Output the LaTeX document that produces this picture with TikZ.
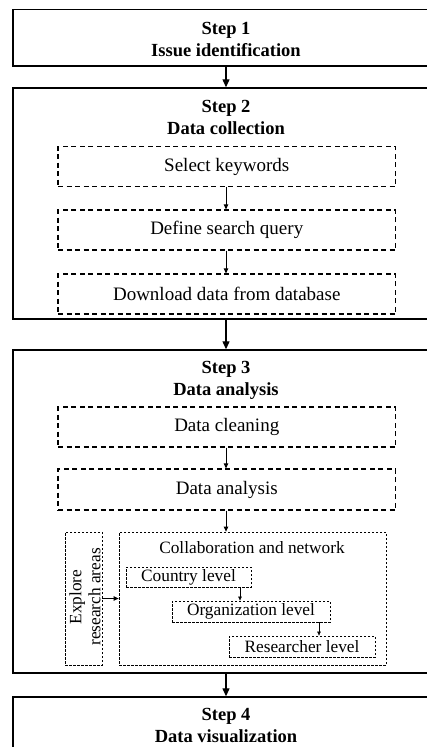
\documentclass[tikz,border=0pt]{standalone}
\usepackage{fontspec}
\setmainfont{Liberation Serif}
\usetikzlibrary{arrows.meta}

\tikzset{
  stepbox/.style={draw, line width=1.4pt, minimum width=426pt, inner sep=0pt},
  steptitle/.style={font=\fontsize{18.5}{22}\selectfont\bfseries, anchor=base, inner sep=0pt},
  taskbox/.style={draw, line width=1.2pt, dash pattern=on 5pt off 3.5pt,
    minimum width=337.5pt, minimum height=40pt, inner sep=0pt,
    font=\fontsize{19}{22}\selectfont},
  subbox/.style={draw, line width=0.8pt, dash pattern=on 2.5pt off 1.5pt, inner sep=0pt},
  sublabel/.style={font=\fontsize{17.3}{21}\selectfont},
  arr/.style={line width=1.2pt, -{Triangle[length=8pt,width=7pt]}},
  smallarr/.style={line width=0.8pt, -{Triangle[length=5pt,width=4.5pt]}},
  tinyarr/.style={line width=0.6pt, -{Triangle[length=4pt,width=3.5pt]}},
}

\begin{document}
\begin{tikzpicture}[x=1pt,y=1pt]
\useasboundingbox (0,0) rectangle (426,-747);

% Step 1
\node[stepbox, minimum height=56.5pt] (s1) at (226,-37.75) {};
\node[steptitle] (s1a) at (226,-34) {Step 1};
\node[steptitle] (s1b) at (226,-56) {Issue identification};

% Step 2
\node[stepbox, minimum height=231pt] (s2) at (226,-203.5) {};
\node[steptitle] (s2a) at (226,-112) {Step 2};
\node[steptitle] (s2b) at (226,-134) {Data collection};
\node[taskbox] (kw) at (226.75,-166.5) {Select keywords};
\node[taskbox] (query) at (226.75,-230) {Define search query};
\node[taskbox] (dl) at (226.75,-294) {Download data from database};

% Step 3
\node[stepbox, minimum height=323pt] (s3) at (226,-511.5) {};
\node[steptitle] (s3a) at (226,-373) {Step 3};
\node[steptitle] (s3b) at (226,-395) {Data analysis};
\node[taskbox] (clean) at (226.75,-427) {Data cleaning};
\node[taskbox, minimum height=41pt] (anal) at (226.75,-489.5) {Data analysis};

\node[subbox, minimum width=37pt, minimum height=133pt] (explore) at (83.5,-598.5) {};
\node[sublabel, rotate=90, align=center, inner sep=0pt] (exploretxt) at (85,-597)
  {Explore\\[-2pt]research areas};
\node[subbox, minimum width=267pt, minimum height=133pt] (collab) at (252.5,-598.5) {};
\node[sublabel, anchor=base, inner sep=0pt] (collabtxt) at (252,-553) {Collaboration and network};
\node[subbox, sublabel, minimum width=125pt, minimum height=20pt] (country) at (188.5,-577) {Country level};
\node[subbox, sublabel, minimum width=158pt, minimum height=21pt] (org) at (251,-611.5) {Organization level};
\node[subbox, sublabel, minimum width=146pt, minimum height=21pt] (res) at (302,-646.5) {Researcher level};

% Step 4
\node[stepbox, minimum height=70pt] (s4) at (226,-732) {};
\node[steptitle] (s4a) at (226,-720) {Step 4};
\node[steptitle] (s4b) at (226,-742) {Data visualization};

% connectors
\coordinate (cx1) at (240,0);
\coordinate (cx2) at (319,0);
\draw[arr] (s1.south) -- (s2.north);
\draw[arr] (s2.south) -- (s3.north);
\draw[arr] (s3.south) -- (s4.north);
\draw[smallarr] (kw.south -| s1.south) -- (query.north -| s1.south);
\draw[smallarr] (query.south -| s1.south) -- (dl.north -| s1.south);
\draw[smallarr] (clean.south -| s1.south) -- (anal.north -| s1.south);
\draw[smallarr] (anal.south -| s1.south) -- (collab.north -| s1.south);
\draw[smallarr] (explore.east) -- (collab.west);
\draw[tinyarr] (cx1 |- country.south) -- (cx1 |- org.north);
\draw[tinyarr] (cx2 |- org.south) -- (cx2 |- res.north);
\end{tikzpicture}
\end{document}
